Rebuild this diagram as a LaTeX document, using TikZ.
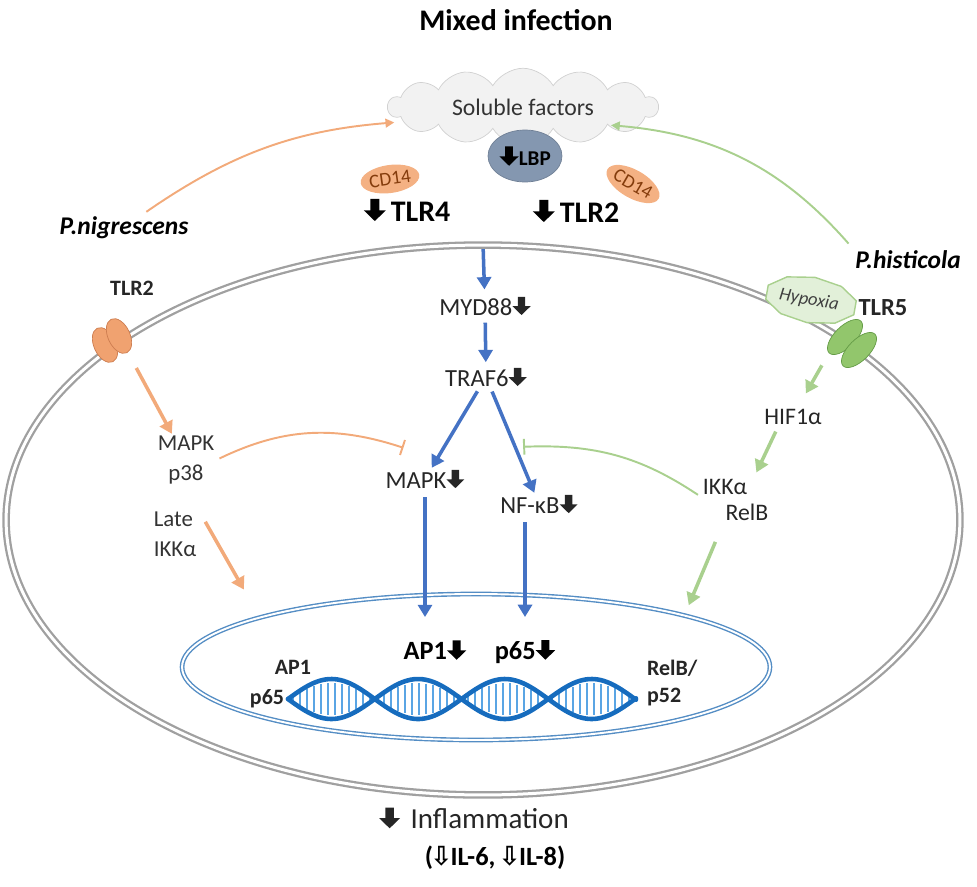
\documentclass[tikz,border=0pt]{standalone}
\usepackage{fontspec}
\setmainfont{Carlito}
\newfontfamily\symfont{DejaVu Sans}
\usepackage{tikz}
\usetikzlibrary{arrows.meta,shapes.geometric,shapes.symbols,positioning}
\usepackage{xcolor}
\definecolor{mxorange}{RGB}{242,170,122}
\definecolor{mxorangefill}{RGB}{240,162,112}
\definecolor{mxorangedark}{RGB}{205,125,80}
\definecolor{mxcd}{RGB}{244,177,131}
\definecolor{mxcdtext}{RGB}{132,60,12}
\definecolor{mxgreen}{RGB}{169,208,142}
\definecolor{mxgreenfill}{RGB}{146,198,108}
\definecolor{mxgreendark}{RGB}{100,155,70}
\definecolor{mxhypoxia}{RGB}{226,240,217}
\definecolor{mxblue}{RGB}{68,114,196}
\definecolor{mxlbp}{RGB}{132,151,176}
\definecolor{mxnucleus}{RGB}{84,141,196}
\definecolor{mxdna}{RGB}{22,108,190}
\definecolor{mxrung}{RGB}{90,165,228}
\definecolor{mxgray}{RGB}{160,160,160}
\definecolor{mxcloud}{RGB}{242,242,242}
\newcommand{\fsz}[1]{\fontsize{#1}{#1}\selectfont}
% heavy down arrow, sized on the font in force
\newcommand{\dnarrow}{\tikz[baseline=0pt, x=1em, y=1em]\fill (0.22,0.74) -- (0.52,0.74) -- (0.52,0.36) -- (0.74,0.36) -- (0.37,0) -- (0,0.36) -- (0.22,0.36) -- cycle;}
\newcommand{\hollowdn}{{\kern-1.5pt\symfont ⇩\kern-1pt}}
\tikzstyle{sig} = [font=\fsz{14}, inner sep=1pt, text=black!85]
\tikzstyle{sidetxt} = [font=\fsz{13}, inner sep=1pt, text=black!80, align=center]
\tikzstyle{boldtxt} = [font=\bfseries\fsz{12.5}, inner sep=1pt, text=black!85]
\tikzstyle{nuctxt} = [font=\bfseries\fsz{15}, inner sep=1pt]
\tikzstyle{bact} = [font=\bfseries\itshape\fsz{14.5}, inner sep=1pt]
\tikzstyle{recep} = [font=\bfseries\fsz{17}, inner sep=1pt]
\tikzstyle{solcloud} = [cloud, cloud puffs=14, cloud puff arc=120, cloud ignores aspect, minimum width=5.4cm, minimum height=1.55cm, draw=black!18, fill=mxcloud, font=\fsz{13.5}, text=black!80]
\tikzstyle{lbpnode} = [ellipse, fill=mxlbp, draw=mxlbp!85!black, minimum width=1.48cm, minimum height=1.04cm, inner sep=0pt, font=\bfseries\fsz{12}]
\tikzstyle{cdnode} = [ellipse, fill=mxcd, minimum width=1.0cm, minimum height=0.56cm, inner sep=0pt, font=\fsz{11}, text=mxcdtext]
\tikzstyle{orrec} = [ellipse, fill=mxorangefill, draw=mxorangedark, minimum width=0.44cm, minimum height=0.74cm, inner sep=0pt]
\tikzstyle{grrec} = [ellipse, fill=mxgreenfill, draw=mxgreendark, minimum width=0.9cm, minimum height=0.42cm, inner sep=0pt]
\tikzstyle{hypox} = [fill=mxhypoxia, draw=mxgreen, line width=0.8pt]
\tikzstyle{membrane} = [ellipse, draw=mxgray, double=white, double distance=1.7pt, line width=1.3pt]
\tikzstyle{nucleusnode} = [ellipse, draw=mxnucleus, double=white, double distance=1.1pt, line width=0.8pt]
\tikzstyle{bluearrow} = [line width=2pt, -{Triangle[length=7pt,width=8pt]}, color=mxblue]
\tikzstyle{orarrow} = [line width=2pt, -{Triangle[length=7pt,width=8pt]}, color=mxorange]
\tikzstyle{grarrow} = [line width=2pt, -{Triangle[length=7pt,width=8pt]}, color=mxgreen]
\tikzstyle{orthin} = [line width=1.1pt, -{Triangle[length=5pt,width=5pt]}, color=mxorange]
\tikzstyle{grthin} = [line width=1.1pt, -{Triangle[length=5pt,width=5pt]}, color=mxgreen]
\tikzstyle{orblock} = [line width=1.1pt, -{Bar[width=9pt]}, color=mxorange]
\tikzstyle{grblock} = [line width=1.1pt, -{Bar[width=9pt]}, color=mxgreen]
\tikzstyle{dnastrand} = [line width=2.6pt, color=mxdna, line cap=round]
\tikzstyle{dnarung} = [line width=1.3pt, color=mxrung]
\begin{document}
\begin{tikzpicture}[x=0.02cm, y=-0.02cm]
\useasboundingbox (0,0) rectangle (977,886);

% Title
\node (title) [font=\bfseries\fsz{17}] at (516,20) {Mixed infection};

% Cell and nucleus
\node (cell) [membrane, minimum width=19.08cm, minimum height=11cm] at (483,520) {};
\node (nucleus) [nucleusnode, minimum width=11.76cm, minimum height=2.92cm] at (476,667) {};

% Soluble factors
\node (cloud) [solcloud] at (523,107) {Soluble factors};
\node (lbp) [lbpnode] at (525,156) {{\fsz{15}\dnarrow}LBP};
\node (cdL) [cdnode, rotate=8] at (390,179) {CD14};
\node (cdR) [cdnode, rotate=-30] at (633,184) {CD14};
\node (tlr4) [recep] at (407,210) {\dnarrow\,TLR4};
\node (tlr2) [recep] at (576,211) {\dnarrow\,TLR2};

% Bacteria
\node (pnig) [bact] at (124,228) {P.nigrescens};
\node (phis) [bact] at (908,260) {P.histicola};

% TLR2 on the left
\node (tlr2L) [boldtxt] at (132,288) {TLR2};
\node (tlrA) [orrec, rotate=25] at (105,345) {};
\node (tlrB) [orrec, rotate=25] at (119,336) {};

% Hypoxia and TLR5 on the right
\draw[hypox, rotate around={-10:(811,300)}] plot[variable=\t, samples at={0,36,...,324}] ({811+47*cos(\t+18)}, {300+23*sin(\t+18)}) -- cycle;
\node (hyp) [font=\itshape\fsz{10.5}, rotate=-10, text=black!75] at (809,300) {Hypoxia};
\node (tlr5a) [grrec, rotate=45] at (845,337) {};
\node (tlr5b) [grrec, rotate=45] at (859,350) {};
\node (tlr5) [boldtxt, font=\bfseries\fsz{14}] at (883,308) {TLR5};

% MyD88 pathway
\node (myd) [sig] at (485,306) {MYD88\dnarrow};
\node (traf) [sig] at (486,377) {TRAF6\dnarrow};
\node (mapk) [sig] at (425,479) {MAPK\dnarrow};
\node (nfkb) [sig] at (539,504) {NF-κB\dnarrow};

% Side pathways
\node (mapkL) [sidetxt] at (186,460) {MAPK\\[4pt]p38};
\node (late) [sidetxt, align=left] at (175,534) {Late\\[4pt]IKKα};
\node (hif) [sig, font=\fsz{13.5}] at (793,417) {HIF1α};
\node (ikk) [sig, font=\fsz{13.5}] at (725,487) {IKKα};
\node (relb) [sig, font=\fsz{13.5}] at (747,512) {RelB};

% Nucleus
\node (ap1) [nuctxt] at (435,650) {AP1\dnarrow};
\node (p65) [nuctxt] at (525,652) {p65\dnarrow};
\node (ap1L) [boldtxt] at (293,667) {AP1};
\node (p65L) [boldtxt] at (267,699) {p65};
\node (relbN) [boldtxt, anchor=west] at (645,668) {RelB/};
\node (p52) [boldtxt, anchor=west] at (645,697) {p52};

% DNA
\foreach \x in {293,300,...,631}
  \draw[dnarung] (\x,{699+16*sin((\x-288)*2.075)}) -- (\x,{699-16*sin((\x-288)*2.075)});
\draw[dnastrand] plot[domain=288:636, samples=120] (\x,{699+20*sin((\x-288)*2.075)});
\draw[dnastrand] plot[domain=288:636, samples=120] (\x,{699-20*sin((\x-288)*2.075)});

% Outcome
\node (infl) [font=\fsz{16.5}, text=black!85] at (474,818) {{\fsz{16}\dnarrow}\hspace{6pt}Inflammation};
\node (il) [font=\bfseries\fsz{15}, below=3pt of infl, xshift=0.42cm] {(\hollowdn IL-6, \hollowdn IL-8)};

% Connectors
\draw[bluearrow, shorten <=3pt, shorten >=3pt] (cell.north) -- (myd);
\draw[bluearrow, shorten <=3pt, shorten >=2pt] (myd) -- (traf);
\draw[bluearrow, shorten <=2pt] (traf) -- (mapk);
\draw[bluearrow, shorten <=2pt] (traf) -- (nfkb);
\draw[bluearrow, shorten <=4pt, shorten >=12pt] (mapk.south) -- (mapk.south |- ap1.north);
\draw[bluearrow, shorten <=4pt, shorten >=12pt] (nfkb.south -| p65.north) -- (p65.north);

\draw[orthin, shorten <=3pt, shorten >=5pt] ([xshift=0.36cm]pnig.north) to[bend left=15] (cloud.187);
\draw[orarrow, shorten <=10pt] (tlrB) -- (mapkL);
\draw[orarrow, shorten <=8pt, shorten >=18pt] (late.north east) -- (nucleus.167);
\draw[orblock, shorten <=2pt] (mapkL.east) to[bend left=22] ([xshift=0.4cm,yshift=0.4cm]mapk.north west);

\draw[grthin, shorten <=4pt, shorten >=2pt] (phis.north west) to[bend right=22] (cloud.-12);
\draw[grarrow, shorten <=8pt, shorten >=9pt] (tlr5a.west) -- ([xshift=0.1cm]hif.north);
\draw[grarrow, shorten <=3pt, shorten >=3pt] ([xshift=-0.3cm]hif.south) -- ([xshift=0.1cm]ikk.north east);
\draw[grarrow, shorten <=12pt, shorten >=6pt] (relb.south west) -- (nucleus.14);
\draw[grblock, shorten <=2pt] (ikk.south west) to[bend right=18] ([xshift=0.5cm,yshift=0.92cm]nfkb.north west);
\end{tikzpicture}
\end{document}
